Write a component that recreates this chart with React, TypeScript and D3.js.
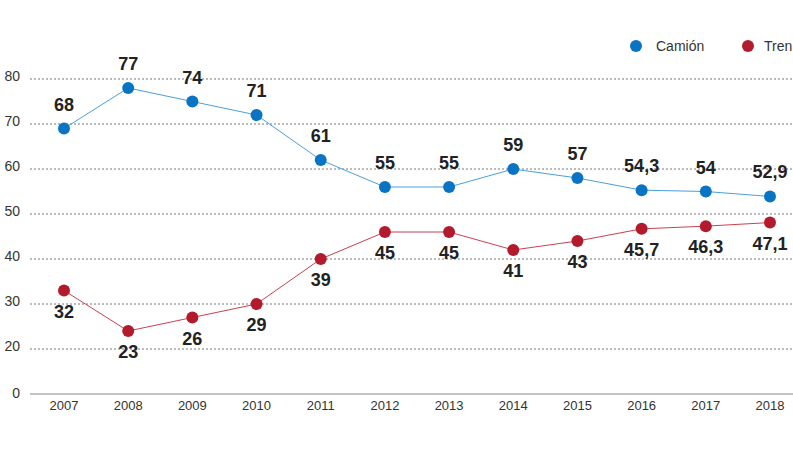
import React from 'react';
import * as d3 from 'd3';

const years = ['2007', '2008', '2009', '2010', '2011', '2012', '2013', '2014', '2015', '2016', '2017', '2018'];
const camion = [68, 77, 74, 71, 61, 55, 55, 59, 57, 54.3, 54, 52.9];
const tren = [32, 23, 26, 29, 39, 45, 45, 41, 43, 45.7, 46.3, 47.1];
const gridTicks = [20, 30, 40, 50, 60, 70, 80];

const W = 793;
const H = 452;
const BLUE = '#0a74c4';
const BLUE_LINE = '#4a9fdc';
const RED = '#b31b2c';
const RED_LINE = '#c9414f';
const fmt = (v: number) => String(v).replace('.', ',');

export default function App() {
  const x = d3.scalePoint<string>().domain(years).range([64, 770]);
  // grid scale: bottom axis (labelled 0) sits where 10 would be
  const y = d3.scaleLinear().domain([10, 80]).range([394, 79]);
  // marks sit about one unit above the printed grid in the original
  const yMark = d3.scaleLinear().domain([9, 79]).range([394, 79]);

  const line = d3.line<number>()
    .x((_, i) => x(years[i])!)
    .y(d => yMark(d));

  const font = '"Liberation Sans", Arial, sans-serif';

  return (
    <svg width={W} height={H} style={{ position: 'absolute', left: 0, top: 0, background: '#fff' }} fontFamily={font}>
      {gridTicks.map(t => (
        <g key={t}>
          <line x1={30} x2={W} y1={y(t)} y2={y(t)} stroke="#555" strokeWidth={0.8} strokeDasharray="2,2" />
          <text x={20} y={y(t) + 2} textAnchor="end" fontSize={14} fill="#333">{t}</text>
        </g>
      ))}
      <line x1={30} x2={W} y1={y(10)} y2={y(10)} stroke="#888" strokeWidth={1} />
      <text x={20} y={y(10) + 4} textAnchor="end" fontSize={14} fill="#333">0</text>

      {years.map(yr => (
        <text key={yr} x={x(yr)} y={410} textAnchor="middle" fontSize={13} fill="#333">{yr}</text>
      ))}

      <path d={line(camion)!} fill="none" stroke={BLUE_LINE} strokeWidth={1} />
      <path d={line(tren)!} fill="none" stroke={RED_LINE} strokeWidth={1} />

      {camion.map((v, i) => (
        <g key={'c' + i}>
          <circle cx={x(years[i])} cy={yMark(v)} r={6} fill={BLUE} />
          <text x={x(years[i])} y={yMark(v) - 18} textAnchor="middle" fontSize={18} fontWeight="bold" fill="#222">{fmt(v)}</text>
        </g>
      ))}
      {tren.map((v, i) => (
        <g key={'t' + i}>
          <circle cx={x(years[i])} cy={yMark(v)} r={6} fill={RED} />
          <text x={x(years[i])} y={yMark(v) + 27} textAnchor="middle" fontSize={18} fontWeight="bold" fill="#222">{fmt(v)}</text>
        </g>
      ))}

      <circle cx={636} cy={46} r={6} fill={BLUE} />
      <text x={656} y={51} fontSize={14} fill="#333">Camión</text>
      <circle cx={748} cy={46} r={6} fill={RED} />
      <text x={764} y={51} fontSize={14} fill="#333">Tren</text>
    </svg>
  );
}
